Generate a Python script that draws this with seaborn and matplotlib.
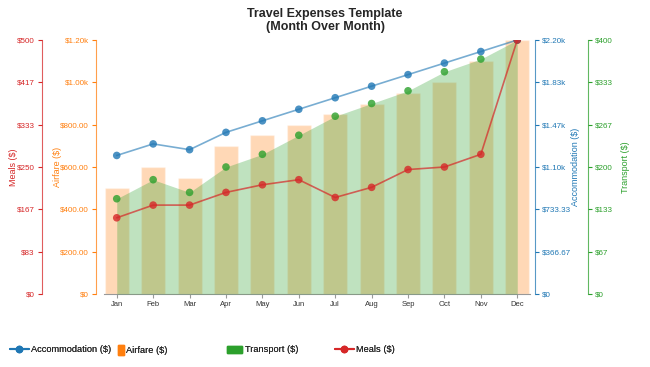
import matplotlib
matplotlib.use("Agg")
import matplotlib.pyplot as plt
from matplotlib.lines import Line2D
from matplotlib.patches import Patch
import numpy as np
import pandas as pd
import seaborn as sns

# data
months = ['Jan', 'Feb', 'Mar', 'Apr', 'May', 'Jun', 'Jul', 'Aug', 'Sep', 'Oct', 'Nov', 'Dec']
accommodation = [1200, 1300, 1250, 1400, 1500, 1600, 1700, 1800, 1900, 2000, 2100, 2200]
airfare = [500, 600, 550, 700, 750, 800, 850, 900, 950, 1000, 1100, 1200]
transport = [150, 180, 160, 200, 220, 250, 280, 300, 320, 350, 370, 400]
meals = [150, 175, 175, 200, 215, 225, 190, 210, 245, 250, 275, 500]

meals_ticklabels = ['$0', '$83', '$167', '$250', '$333', '$417', '$500']
airfare_ticklabels = ['$0', '$200.00', '$400.00', '$600.00', '$800.00', '$1.00k', '$1.20k']
accom_ticklabels = ['$0', '$366.67', '$733.33', '$1.10k', '$1.47k', '$1.83k', '$2.20k']
transport_ticklabels = ['$0', '$67', '$133', '$200', '$267', '$333', '$400']

df = pd.DataFrame({'month': months, 'x': range(len(months)),
                   'accommodation': accommodation, 'airfare': airfare,
                   'transport': transport, 'meals': meals})

sns.set_style('white')
plt.rcParams['font.family'] = ['Liberation Sans', 'DejaVu Sans']

BLUE = '#1f77b4'
ORANGE = '#ff7f0e'
GREEN = '#2ca02c'
RED = '#d62728'

fig = plt.figure(figsize=(6.5, 3.67), dpi=100)
ax = fig.add_axes([104 / 650, 1 - 294 / 367, 426 / 650, 254 / 367])

# Airfare bars (host axis)
sns.barplot(data=df, x='x', y='airfare', color=ORANGE, alpha=0.3, width=0.66,
            saturation=1, ax=ax)
ax.set_xlim(-0.35, 11.35)
ax.set_ylim(0, 1200)

# Transport area + points
ax_tr = ax.twinx()
ax_tr.fill_between(df['x'], df['transport'], color=GREEN, alpha=0.3, linewidth=0)
sns.scatterplot(data=df, x='x', y='transport', color=GREEN, s=30, alpha=0.8,
                edgecolor='none', ax=ax_tr)
ax_tr.set_ylim(0, 400)

# Accommodation line
ax_acc = ax.twinx()
sns.lineplot(data=df, x='x', y='accommodation', color=BLUE, alpha=0.6, lw=1.2, ax=ax_acc)
sns.scatterplot(data=df, x='x', y='accommodation', color=BLUE, s=30, alpha=0.8,
                edgecolor='none', ax=ax_acc)
ax_acc.set_ylim(0, 2200)

# Meals line
ax_m = ax.twinx()
sns.lineplot(data=df, x='x', y='meals', color=RED, alpha=0.7, lw=1.2, ax=ax_m)
sns.scatterplot(data=df, x='x', y='meals', color=RED, s=30, alpha=0.8,
                edgecolor='none', ax=ax_m)
ax_m.set_ylim(0, 500)

for a in (ax, ax_tr, ax_acc, ax_m):
    a.set_xlim(-0.35, 11.35)
    for s in a.spines.values():
        s.set_visible(False)

# x axis
ax.spines['bottom'].set_visible(True)
ax.spines['bottom'].set_color('#999999')
ax.set_xticks(df['x'])
ax.set_xticklabels(months, fontsize=5.5, color='#333333')
ax.tick_params(axis='x', length=3, color='#999999', pad=2, bottom=True)
ax.set_xlabel('')


def style_axis(a, side, pos, color, ymax, labels, title, label_x):
    a.spines[side].set_visible(True)
    a.spines[side].set_position(('axes', pos))
    a.spines[side].set_color(color)
    a.spines[side].set_alpha(0.75)
    a.yaxis.set_ticks_position(side)
    a.yaxis.set_label_position(side)
    a.set_yticks(np.linspace(0, ymax, 7))
    a.set_yticklabels(labels, fontsize=5.8, color=color)
    a.tick_params(axis='y', length=3, color=color, pad=2)
    a.set_ylabel(title, fontsize=6.5, color=color)
    a.yaxis.set_label_coords(label_x, 0.5)
    a.set_xlabel('')
    a.grid(False)


style_axis(ax, 'left', -0.0188, ORANGE, 1200, airfare_ticklabels, 'Airfare ($)', -0.099)
style_axis(ax_m, 'left', -0.146, RED, 500, meals_ticklabels, 'Meals ($)', -0.202)
style_axis(ax_acc, 'right', 1.0118, BLUE, 2200, accom_ticklabels, 'Accommodation ($)', 1.096)
style_axis(ax_tr, 'right', 1.136, GREEN, 400, transport_ticklabels, 'Transport ($)', 1.214)
ax_m.tick_params(axis='x', bottom=False, labelbottom=False)

fig.suptitle('Travel Expenses Template\n(Month Over Month)', fontsize=9,
             fontweight='bold', x=0.5, y=1 - 8 / 367, va='top', linespacing=1.15)

# legend items, placed one by one like the reference
legend_items = [
    (Line2D([], [], color=BLUE, marker='o', markersize=4.5, lw=1.5), 'Accommodation ($)', 10 / 650, 2.0, 0.7),
    (Patch(color=ORANGE), 'Airfare ($)', 118 / 650, 0.6, 1.4),
    (Patch(color=GREEN), 'Transport ($)', 227 / 650, 1.6, 0.8),
    (Line2D([], [], color=RED, marker='o', markersize=4.5, lw=1.5), 'Meals ($)', 335 / 650, 2.0, 0.7),
]
for h, lab, x0, hl, hh in legend_items:
    leg = fig.legend([h], [lab], loc='center left', bbox_to_anchor=(x0, 1 - 350 / 367),
                     frameon=False, fontsize=6.7, handlelength=hl, handleheight=hh,
                     handletextpad=0.3, borderpad=0, borderaxespad=0)
    fig.add_artist(leg)

fig.savefig('out.png', dpi=100)
